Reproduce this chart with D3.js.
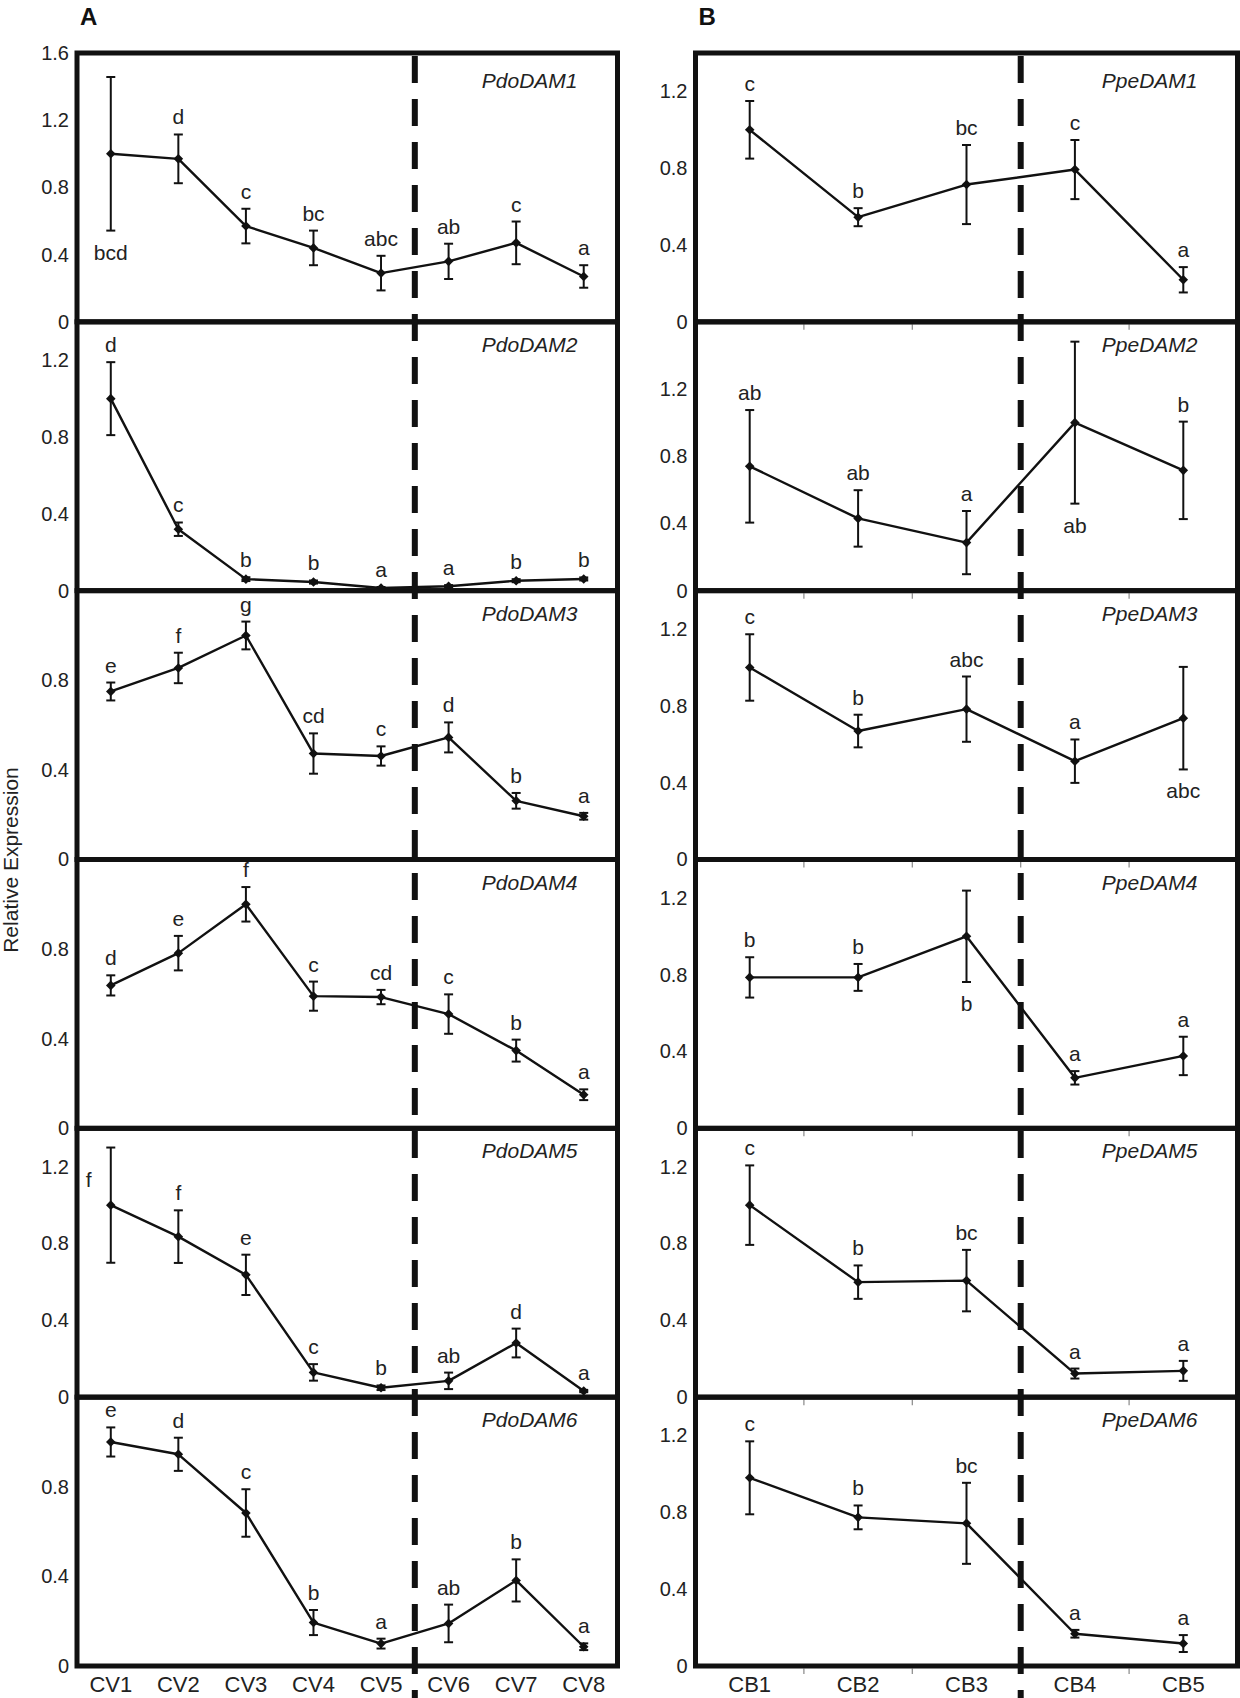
<!DOCTYPE html>
<html><head><meta charset="utf-8">
<script src="https://cdn.jsdelivr.net/npm/d3@7/dist/d3.min.js"></script>
<style>
html,body{margin:0;padding:0;background:#fff;}
svg{display:block;font-family:"Liberation Sans",Arial,sans-serif;}
</style></head>
<body><svg id="chart" width="1240" height="1698"></svg>
<script>
// ---------------- DATA ----------------
const cvStages = ["CV1","CV2","CV3","CV4","CV5","CV6","CV7","CV8"];
const cbStages = ["CB1","CB2","CB3","CB4","CB5"];

const pdoGenes = ["PdoDAM1","PdoDAM2","PdoDAM3","PdoDAM4","PdoDAM5","PdoDAM6"];
const ppeGenes = ["PpeDAM1","PpeDAM2","PpeDAM3","PpeDAM4","PpeDAM5","PpeDAM6"];

const pdoMeans = [
  [1.00, 0.97, 0.57, 0.44, 0.29, 0.36, 0.47, 0.27],
  [1.00, 0.32, 0.06, 0.045, 0.014, 0.023, 0.052, 0.061],
  [0.75, 0.855, 1.00, 0.473, 0.462, 0.545, 0.262, 0.193],
  [0.638, 0.782, 1.00, 0.59, 0.586, 0.51, 0.347, 0.15],
  [1.00, 0.836, 0.637, 0.129, 0.049, 0.085, 0.282, 0.032],
  [1.00, 0.945, 0.683, 0.194, 0.10, 0.19, 0.382, 0.086]
];
const pdoErrors = [
  [0.457, 0.145, 0.103, 0.103, 0.103, 0.105, 0.127, 0.067],
  [0.19, 0.035, 0.01, 0.008, 0.005, 0.006, 0.008, 0.008],
  [0.04, 0.068, 0.062, 0.09, 0.043, 0.067, 0.035, 0.015],
  [0.045, 0.077, 0.077, 0.065, 0.032, 0.088, 0.049, 0.024],
  [0.30, 0.137, 0.105, 0.043, 0.012, 0.043, 0.075, 0.006],
  [0.065, 0.074, 0.106, 0.056, 0.022, 0.084, 0.094, 0.015]
];
const pdoLetters = [
  ["bcd","d","c","bc","abc","ab","c","a"],
  ["d","c","b","b","a","a","b","b"],
  ["e","f","g","cd","c","d","b","a"],
  ["d","e","f","c","cd","c","b","a"],
  ["f","f","e","c","b","ab","d","a"],
  ["e","d","c","b","a","ab","b","a"]
];

const ppeMeans = [
  [1.00, 0.545, 0.715, 0.793, 0.219],
  [0.74, 0.43, 0.286, 1.00, 0.716],
  [1.00, 0.669, 0.783, 0.512, 0.736],
  [0.786, 0.786, 1.00, 0.263, 0.377],
  [1.00, 0.599, 0.607, 0.123, 0.137],
  [0.98, 0.774, 0.743, 0.168, 0.117]
];
const ppeErrors = [
  [0.15, 0.047, 0.206, 0.154, 0.066],
  [0.335, 0.168, 0.188, 0.482, 0.29],
  [0.173, 0.085, 0.17, 0.113, 0.267],
  [0.105, 0.07, 0.238, 0.035, 0.10],
  [0.207, 0.087, 0.16, 0.026, 0.052],
  [0.19, 0.062, 0.211, 0.02, 0.044]
];
const ppeLetters = [
  ["c","b","bc","c","a"],
  ["ab","ab","a","ab","b"],
  ["c","b","abc","a","abc"],
  ["b","b","b","a","a"],
  ["c","b","bc","a","a"],
  ["c","b","bc","a","a"]
];

const pdoYMax = [1.6, 1.4, 1.2, 1.2, 1.4, 1.2];
const ppeYMax = [1.4, 1.6, 1.4, 1.4, 1.4, 1.4];
const pdoTicks = [[0,0.4,0.8,1.2,1.6],[0,0.4,0.8,1.2],[0,0.4,0.8],[0,0.4,0.8],[0,0.4,0.8,1.2],[0,0.4,0.8]];
const ppeTicks = [[0,0.4,0.8,1.2],[0,0.4,0.8,1.2],[0,0.4,0.8,1.2],[0,0.4,0.8,1.2],[0,0.4,0.8,1.2],[0,0.4,0.8,1.2]];

// ---------------- LAYOUT ----------------
const svg = d3.select("#chart");
const top0 = 53, bottom0 = 1666, nRows = 6;
const rowH = (bottom0 - top0) / nRows;
const FONT = '"Liberation Sans",Arial,sans-serif';

// letter placement exceptions (column, row, index) -> 'below' | 'left'
const letterPlacement = {
  "L-0-0":"below", "L-4-0":"left",
  "R-1-3":"below", "R-2-4":"below", "R-3-2":"below"
};

const columns = [
  {key:"L", x0:77, x1:617.5, cats:cvStages, genes:pdoGenes, means:pdoMeans, errs:pdoErrors,
   letters:pdoLetters, ymax:pdoYMax, ticks:pdoTicks, split:5, panel:"A", bottomTicks:false},
  {key:"R", x0:695.5, x1:1237.5, cats:cbStages, genes:ppeGenes, means:ppeMeans, errs:ppeErrors,
   letters:ppeLetters, ymax:ppeYMax, ticks:ppeTicks, split:3, panel:"B", bottomTicks:true}
];

const fmt = d => d === 0 ? "0" : d3.format(".1f")(d);

columns.forEach(col => {
  const x = d3.scaleBand().domain(col.cats).range([col.x0, col.x1]).paddingInner(0).paddingOuter(0);
  const xc = c => x(c) + x.bandwidth()/2;

  // panel letter
  svg.append("text").attr("x", col.x0 + 3).attr("y", 25)
    .attr("font-size", 24).attr("font-weight", "bold").attr("font-family", FONT)
    .attr("fill", "#111").text(col.panel);

  col.genes.forEach((gene, r) => {
    const rTop = top0 + r * rowH, rBot = rTop + rowH;
    const y = d3.scaleLinear().domain([0, col.ymax[r]]).range([rBot, rTop]);
    const g = svg.append("g");

    // y axis labels
    const ax = g.append("g").attr("transform", `translate(${col.x0},0)`)
      .call(d3.axisLeft(y).tickValues(col.ticks[r]).tickSize(0).tickPadding(8).tickFormat(fmt));
    ax.select(".domain").remove();
    ax.selectAll("text").attr("font-size", 20).attr("font-family", FONT).attr("fill", "#222");

    // small ticks under right panels at band boundaries
    if (col.bottomTicks) {
      col.cats.slice(1).forEach(c => {
        g.append("line").attr("x1", x(c)).attr("x2", x(c))
          .attr("y1", rBot + 2.5).attr("y2", rBot + 8)
          .attr("stroke", "#888").attr("stroke-width", 1.2);
      });
    }

    const pts = col.cats.map((c, i) => ({c, i, m: col.means[r][i], e: col.errs[r][i], l: col.letters[r][i]}));

    // line
    g.append("path").datum(pts)
      .attr("d", d3.line().x(d => xc(d.c)).y(d => y(d.m)))
      .attr("fill", "none").attr("stroke", "#111").attr("stroke-width", 2.4)
      .attr("stroke-linejoin", "round");

    // error bars
    const eb = g.selectAll(".eb").data(pts).enter().append("g");
    eb.append("line").attr("x1", d => xc(d.c)).attr("x2", d => xc(d.c))
      .attr("y1", d => y(d.m + d.e)).attr("y2", d => y(Math.max(0, d.m - d.e)))
      .attr("stroke", "#111").attr("stroke-width", 2);
    [1, -1].forEach(s => {
      eb.append("line").attr("x1", d => xc(d.c) - 4.5).attr("x2", d => xc(d.c) + 4.5)
        .attr("y1", d => y(Math.max(0, d.m + s * d.e))).attr("y2", d => y(Math.max(0, d.m + s * d.e)))
        .attr("stroke", "#111").attr("stroke-width", 2);
    });

    // markers (small diamonds)
    g.selectAll(".mk").data(pts).enter().append("path")
      .attr("d", d3.symbol().type(d3.symbolSquare).size(46))
      .attr("transform", d => `translate(${xc(d.c)},${y(d.m)}) rotate(45)`)
      .attr("fill", "#111");

    // significance letters
    g.selectAll(".lt").data(pts).enter().append("text")
      .attr("font-size", 21).attr("font-family", FONT).attr("fill", "#222")
      .attr("text-anchor", "middle")
      .each(function(d) {
        const place = letterPlacement[`${col.key}-${r}-${d.i}`] || "above";
        let tx = xc(d.c), ty;
        if (place === "below") ty = y(d.m - d.e) + 29;
        else if (place === "left") { tx = xc(d.c) - 22; ty = y(d.m) - 18; }
        else ty = y(d.m + d.e) - 10;
        d3.select(this).attr("x", tx).attr("y", ty);
      })
      .text(d => d.l);

    // gene name
    g.append("text").attr("x", col.x1 - 40).attr("y", rTop + (r === 0 ? 35 : 30))
      .attr("text-anchor", "end").attr("font-size", 21).attr("font-style", "italic")
      .attr("font-family", FONT).attr("fill", "#222").text(gene);

    // frame
    g.append("rect").attr("x", col.x0).attr("y", rTop)
      .attr("width", col.x1 - col.x0).attr("height", rowH)
      .attr("fill", "none").attr("stroke", "#111").attr("stroke-width", 5);

    // bottom category axis on last row
    if (r === nRows - 1) {
      const bx = svg.append("g").attr("transform", `translate(0,${rBot})`)
        .call(d3.axisBottom(x).tickSize(0).tickPadding(10));
      bx.select(".domain").remove();
      bx.selectAll("text").attr("font-size", 22).attr("font-family", FONT).attr("fill", "#222");
    }
  });

  // dashed separator
  const sx = x(col.cats[col.split]);
  svg.append("line").attr("x1", sx).attr("x2", sx)
    .attr("y1", top0 + 3).attr("y2", 1698)
    .attr("stroke", "#111").attr("stroke-width", 6).attr("stroke-dasharray", "27,16");
});

// y axis title
svg.append("text").attr("transform", "translate(18,860) rotate(-90)")
  .attr("text-anchor", "middle").attr("font-size", 21).attr("font-family", FONT)
  .attr("fill", "#222").text("Relative Expression");
</script>
</body></html>
